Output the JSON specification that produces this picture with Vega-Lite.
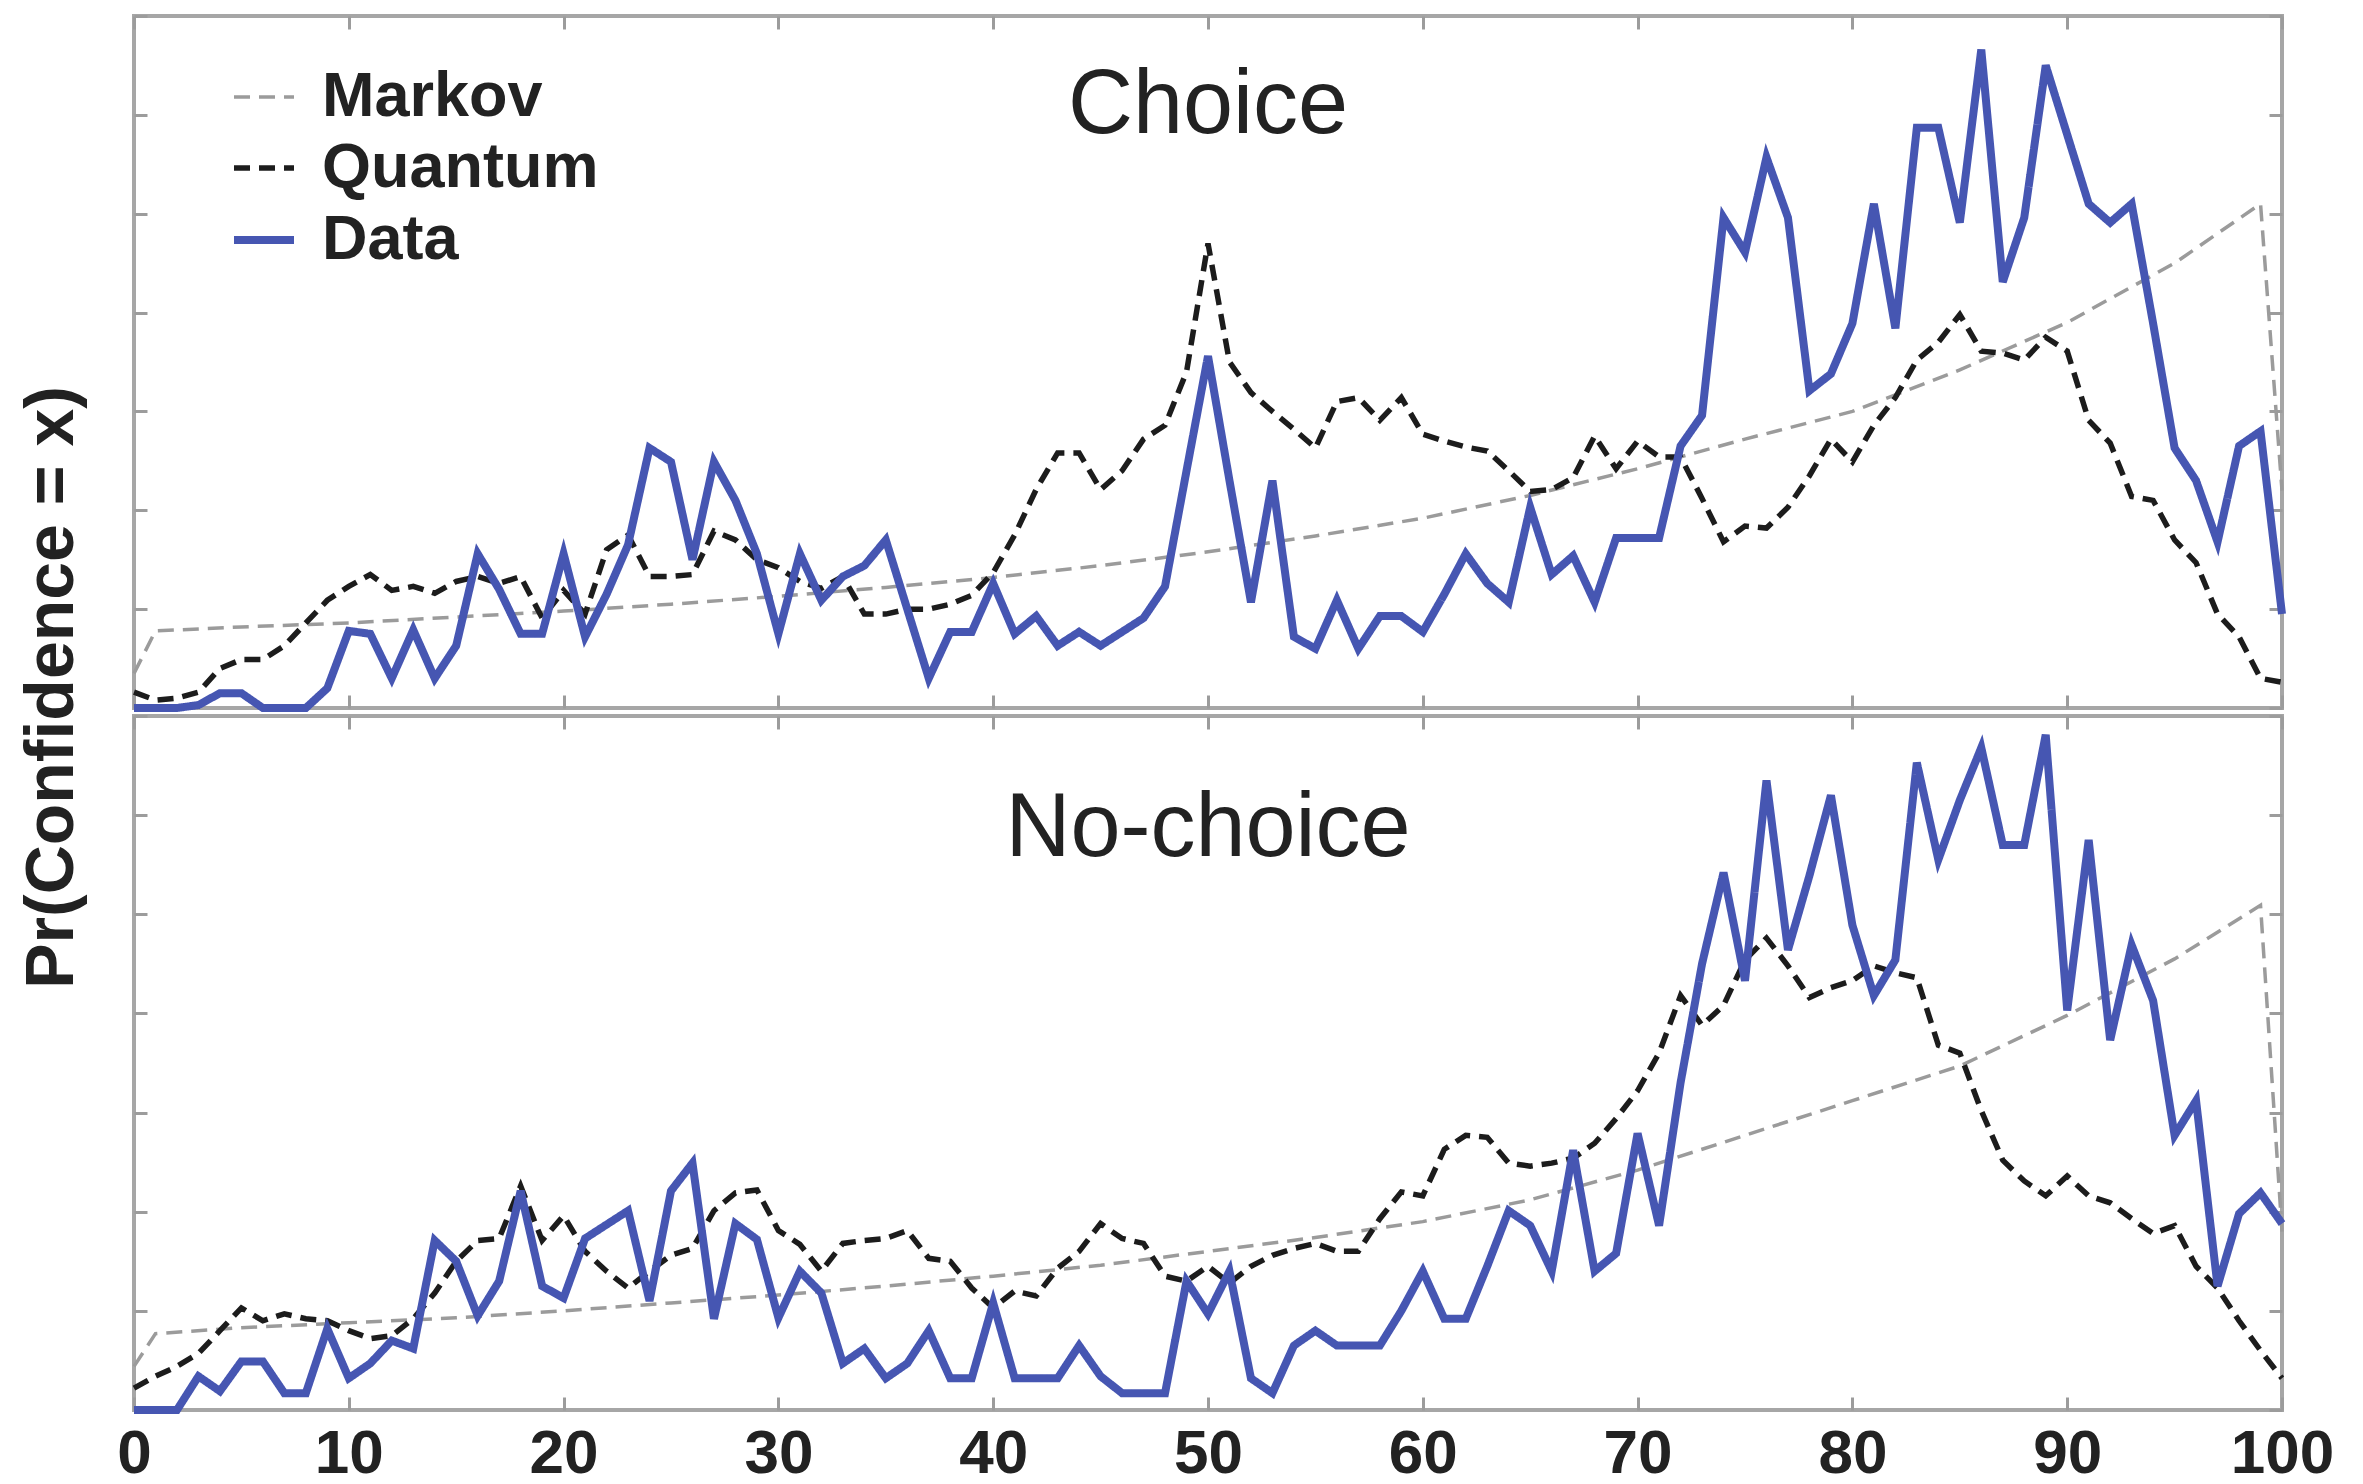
{
  "$schema": "https://vega.github.io/schema/vega-lite/v6.json",
  "background": "white",
  "padding": {"left": 16, "top": 12, "right": 20, "bottom": 10},
  "bounds": "flush",
  "config": {
    "font": "Liberation Sans",
    "view": {"stroke": "#a6a6a6", "strokeWidth": 4},
    "axis": {"grid": false, "domain": false, "tickColor": "#9c9c9c", "tickWidth": 3, "tickSize": -13, "labelFlush": false, "labelOverlap": false}
  },
  "spacing": 8,
  "resolve": {
    "scale": {"color": "independent", "strokeDash": "independent", "strokeWidth": "independent"},
    "legend": {"color": "independent", "strokeDash": "independent", "strokeWidth": "independent"}
  },
  "datasets": {
    "choice": [
      {"model":"Markov","conf":0,"pr":0.0035},{"model":"Markov","conf":1,"pr":0.0078},{"model":"Markov","conf":5,"pr":0.0082},{"model":"Markov","conf":10,"pr":0.0086},{"model":"Markov","conf":15,"pr":0.0092},{"model":"Markov","conf":20,"pr":0.0098},{"model":"Markov","conf":25,"pr":0.0105},{"model":"Markov","conf":30,"pr":0.0113},{"model":"Markov","conf":35,"pr":0.0122},{"model":"Markov","conf":40,"pr":0.0132},{"model":"Markov","conf":45,"pr":0.0144},{"model":"Markov","conf":50,"pr":0.0158},{"model":"Markov","conf":55,"pr":0.0174},{"model":"Markov","conf":60,"pr":0.0192},{"model":"Markov","conf":65,"pr":0.0215},{"model":"Markov","conf":70,"pr":0.0242},{"model":"Markov","conf":75,"pr":0.0272},{"model":"Markov","conf":80,"pr":0.03},{"model":"Markov","conf":85,"pr":0.0342},{"model":"Markov","conf":90,"pr":0.039},{"model":"Markov","conf":95,"pr":0.045},{"model":"Markov","conf":99,"pr":0.051},{"model":"Markov","conf":100,"pr":0.022},
      {"model":"Quantum","conf":0,"pr":0.0016},{"model":"Quantum","conf":1,"pr":0.0008},{"model":"Quantum","conf":2,"pr":0.001},{"model":"Quantum","conf":3,"pr":0.0016},{"model":"Quantum","conf":4,"pr":0.004},{"model":"Quantum","conf":5,"pr":0.0049},{"model":"Quantum","conf":6,"pr":0.0049},{"model":"Quantum","conf":7,"pr":0.0063},{"model":"Quantum","conf":8,"pr":0.0086},{"model":"Quantum","conf":9,"pr":0.0109},
      {"model":"Quantum","conf":10,"pr":0.0123},{"model":"Quantum","conf":11,"pr":0.0135},{"model":"Quantum","conf":12,"pr":0.0119},{"model":"Quantum","conf":13,"pr":0.0123},{"model":"Quantum","conf":14,"pr":0.0116},{"model":"Quantum","conf":15,"pr":0.0128},{"model":"Quantum","conf":16,"pr":0.0133},{"model":"Quantum","conf":17,"pr":0.0126},{"model":"Quantum","conf":18,"pr":0.0133},{"model":"Quantum","conf":19,"pr":0.0091},
      {"model":"Quantum","conf":20,"pr":0.0119},{"model":"Quantum","conf":21,"pr":0.0095},{"model":"Quantum","conf":22,"pr":0.016},{"model":"Quantum","conf":23,"pr":0.0175},{"model":"Quantum","conf":24,"pr":0.0133},{"model":"Quantum","conf":25,"pr":0.0133},{"model":"Quantum","conf":26,"pr":0.0135},{"model":"Quantum","conf":27,"pr":0.0179},{"model":"Quantum","conf":28,"pr":0.017},{"model":"Quantum","conf":29,"pr":0.015},
      {"model":"Quantum","conf":30,"pr":0.0142},{"model":"Quantum","conf":31,"pr":0.0128},{"model":"Quantum","conf":32,"pr":0.0121},{"model":"Quantum","conf":33,"pr":0.0133},{"model":"Quantum","conf":34,"pr":0.0095},{"model":"Quantum","conf":35,"pr":0.0095},{"model":"Quantum","conf":36,"pr":0.01},{"model":"Quantum","conf":37,"pr":0.01},{"model":"Quantum","conf":38,"pr":0.0105},{"model":"Quantum","conf":39,"pr":0.0114},
      {"model":"Quantum","conf":40,"pr":0.0137},{"model":"Quantum","conf":41,"pr":0.0175},{"model":"Quantum","conf":42,"pr":0.0221},{"model":"Quantum","conf":43,"pr":0.0258},{"model":"Quantum","conf":44,"pr":0.0258},{"model":"Quantum","conf":45,"pr":0.0221},{"model":"Quantum","conf":46,"pr":0.024},{"model":"Quantum","conf":47,"pr":0.0272},{"model":"Quantum","conf":48,"pr":0.0286},{"model":"Quantum","conf":49,"pr":0.034},
      {"model":"Quantum","conf":50,"pr":0.047},{"model":"Quantum","conf":51,"pr":0.035},{"model":"Quantum","conf":52,"pr":0.0319},{"model":"Quantum","conf":53,"pr":0.03},{"model":"Quantum","conf":54,"pr":0.0282},{"model":"Quantum","conf":55,"pr":0.0263},{"model":"Quantum","conf":56,"pr":0.031},{"model":"Quantum","conf":57,"pr":0.0314},{"model":"Quantum","conf":58,"pr":0.0291},{"model":"Quantum","conf":59,"pr":0.0314},
      {"model":"Quantum","conf":60,"pr":0.0277},{"model":"Quantum","conf":61,"pr":0.027},{"model":"Quantum","conf":62,"pr":0.0264},{"model":"Quantum","conf":63,"pr":0.026},{"model":"Quantum","conf":64,"pr":0.024},{"model":"Quantum","conf":65,"pr":0.0219},{"model":"Quantum","conf":66,"pr":0.0221},{"model":"Quantum","conf":67,"pr":0.0233},{"model":"Quantum","conf":68,"pr":0.0275},{"model":"Quantum","conf":69,"pr":0.0242},
      {"model":"Quantum","conf":70,"pr":0.027},{"model":"Quantum","conf":71,"pr":0.0254},{"model":"Quantum","conf":72,"pr":0.0254},{"model":"Quantum","conf":73,"pr":0.0212},{"model":"Quantum","conf":74,"pr":0.0168},{"model":"Quantum","conf":75,"pr":0.0184},{"model":"Quantum","conf":76,"pr":0.0182},{"model":"Quantum","conf":77,"pr":0.0203},{"model":"Quantum","conf":78,"pr":0.0235},{"model":"Quantum","conf":79,"pr":0.0272},
      {"model":"Quantum","conf":80,"pr":0.0249},{"model":"Quantum","conf":81,"pr":0.0286},{"model":"Quantum","conf":82,"pr":0.0314},{"model":"Quantum","conf":83,"pr":0.0352},{"model":"Quantum","conf":84,"pr":0.037},{"model":"Quantum","conf":85,"pr":0.0398},{"model":"Quantum","conf":86,"pr":0.0361},{"model":"Quantum","conf":87,"pr":0.0359},{"model":"Quantum","conf":88,"pr":0.0352},{"model":"Quantum","conf":89,"pr":0.0375},
      {"model":"Quantum","conf":90,"pr":0.0361},{"model":"Quantum","conf":91,"pr":0.0291},{"model":"Quantum","conf":92,"pr":0.0268},{"model":"Quantum","conf":93,"pr":0.0214},{"model":"Quantum","conf":94,"pr":0.021},{"model":"Quantum","conf":95,"pr":0.017},{"model":"Quantum","conf":96,"pr":0.0147},{"model":"Quantum","conf":97,"pr":0.0095},{"model":"Quantum","conf":98,"pr":0.0072},{"model":"Quantum","conf":99,"pr":0.003},{"model":"Quantum","conf":100,"pr":0.0026},
      {"model":"Data","conf":0,"pr":0},{"model":"Data","conf":1,"pr":0},{"model":"Data","conf":2,"pr":0},{"model":"Data","conf":3,"pr":0.0003},{"model":"Data","conf":4,"pr":0.0015},{"model":"Data","conf":5,"pr":0.0015},{"model":"Data","conf":6,"pr":0},{"model":"Data","conf":7,"pr":0},{"model":"Data","conf":8,"pr":0},{"model":"Data","conf":9,"pr":0.002},
      {"model":"Data","conf":10,"pr":0.0078},{"model":"Data","conf":11,"pr":0.0075},{"model":"Data","conf":12,"pr":0.003},{"model":"Data","conf":13,"pr":0.0079},{"model":"Data","conf":14,"pr":0.003},{"model":"Data","conf":15,"pr":0.0063},{"model":"Data","conf":16,"pr":0.0156},{"model":"Data","conf":17,"pr":0.012},{"model":"Data","conf":18,"pr":0.0075},{"model":"Data","conf":19,"pr":0.0075},
      {"model":"Data","conf":20,"pr":0.0156},{"model":"Data","conf":21,"pr":0.0072},{"model":"Data","conf":22,"pr":0.0115},{"model":"Data","conf":23,"pr":0.0165},{"model":"Data","conf":24,"pr":0.0263},{"model":"Data","conf":25,"pr":0.0249},{"model":"Data","conf":26,"pr":0.015},{"model":"Data","conf":27,"pr":0.0249},{"model":"Data","conf":28,"pr":0.021},{"model":"Data","conf":29,"pr":0.0156},
      {"model":"Data","conf":30,"pr":0.0075},{"model":"Data","conf":31,"pr":0.0156},{"model":"Data","conf":32,"pr":0.0109},{"model":"Data","conf":33,"pr":0.0133},{"model":"Data","conf":34,"pr":0.0144},{"model":"Data","conf":35,"pr":0.017},{"model":"Data","conf":36,"pr":0.01},{"model":"Data","conf":37,"pr":0.003},{"model":"Data","conf":38,"pr":0.0077},{"model":"Data","conf":39,"pr":0.0077},
      {"model":"Data","conf":40,"pr":0.0126},{"model":"Data","conf":41,"pr":0.0075},{"model":"Data","conf":42,"pr":0.0093},{"model":"Data","conf":43,"pr":0.0063},{"model":"Data","conf":44,"pr":0.0077},{"model":"Data","conf":45,"pr":0.0063},{"model":"Data","conf":46,"pr":0.0077},{"model":"Data","conf":47,"pr":0.0091},{"model":"Data","conf":48,"pr":0.0123},{"model":"Data","conf":49,"pr":0.024},
      {"model":"Data","conf":50,"pr":0.0356},{"model":"Data","conf":51,"pr":0.023},{"model":"Data","conf":52,"pr":0.0107},{"model":"Data","conf":53,"pr":0.023},{"model":"Data","conf":54,"pr":0.0072},{"model":"Data","conf":55,"pr":0.006},{"model":"Data","conf":56,"pr":0.0109},{"model":"Data","conf":57,"pr":0.006},{"model":"Data","conf":58,"pr":0.0093},{"model":"Data","conf":59,"pr":0.0093},
      {"model":"Data","conf":60,"pr":0.0077},{"model":"Data","conf":61,"pr":0.0115},{"model":"Data","conf":62,"pr":0.0156},{"model":"Data","conf":63,"pr":0.0126},{"model":"Data","conf":64,"pr":0.0107},{"model":"Data","conf":65,"pr":0.0203},{"model":"Data","conf":66,"pr":0.0135},{"model":"Data","conf":67,"pr":0.0154},{"model":"Data","conf":68,"pr":0.0107},{"model":"Data","conf":69,"pr":0.0172},
      {"model":"Data","conf":70,"pr":0.0172},{"model":"Data","conf":71,"pr":0.0172},{"model":"Data","conf":72,"pr":0.0265},{"model":"Data","conf":73,"pr":0.0296},{"model":"Data","conf":74,"pr":0.0496},{"model":"Data","conf":75,"pr":0.0461},{"model":"Data","conf":76,"pr":0.0557},{"model":"Data","conf":77,"pr":0.0496},{"model":"Data","conf":78,"pr":0.0321},{"model":"Data","conf":79,"pr":0.0338},
      {"model":"Data","conf":80,"pr":0.0389},{"model":"Data","conf":81,"pr":0.051},{"model":"Data","conf":82,"pr":0.0384},{"model":"Data","conf":83,"pr":0.0587},{"model":"Data","conf":84,"pr":0.0587},{"model":"Data","conf":85,"pr":0.0491},{"model":"Data","conf":86,"pr":0.0666},{"model":"Data","conf":87,"pr":0.0431},{"model":"Data","conf":88,"pr":0.0496},{"model":"Data","conf":89,"pr":0.065},
      {"model":"Data","conf":90,"pr":0.058},{"model":"Data","conf":91,"pr":0.051},{"model":"Data","conf":92,"pr":0.0491},{"model":"Data","conf":93,"pr":0.051},{"model":"Data","conf":94,"pr":0.0389},{"model":"Data","conf":95,"pr":0.0263},{"model":"Data","conf":96,"pr":0.023},{"model":"Data","conf":97,"pr":0.0168},{"model":"Data","conf":98,"pr":0.0265},{"model":"Data","conf":99,"pr":0.028},{"model":"Data","conf":100,"pr":0.0095}
    ],
    "nochoice": [
      {"model":"Markov","conf":0,"pr":0.0044},{"model":"Markov","conf":1,"pr":0.0077},{"model":"Markov","conf":5,"pr":0.0083},{"model":"Markov","conf":10,"pr":0.0088},{"model":"Markov","conf":15,"pr":0.0093},{"model":"Markov","conf":20,"pr":0.01},{"model":"Markov","conf":25,"pr":0.0108},{"model":"Markov","conf":30,"pr":0.0116},{"model":"Markov","conf":35,"pr":0.0125},{"model":"Markov","conf":40,"pr":0.0135},{"model":"Markov","conf":45,"pr":0.0146},{"model":"Markov","conf":50,"pr":0.016},{"model":"Markov","conf":55,"pr":0.0174},{"model":"Markov","conf":60,"pr":0.019},{"model":"Markov","conf":65,"pr":0.0212},{"model":"Markov","conf":70,"pr":0.0242},{"model":"Markov","conf":75,"pr":0.0277},{"model":"Markov","conf":80,"pr":0.0312},{"model":"Markov","conf":85,"pr":0.0347},{"model":"Markov","conf":90,"pr":0.0398},{"model":"Markov","conf":95,"pr":0.0455},{"model":"Markov","conf":99,"pr":0.0509},{"model":"Markov","conf":100,"pr":0.018},
      {"model":"Quantum","conf":0,"pr":0.0022},{"model":"Quantum","conf":1,"pr":0.0034},{"model":"Quantum","conf":2,"pr":0.0044},{"model":"Quantum","conf":3,"pr":0.0057},{"model":"Quantum","conf":4,"pr":0.008},{"model":"Quantum","conf":5,"pr":0.0103},{"model":"Quantum","conf":6,"pr":0.009},{"model":"Quantum","conf":7,"pr":0.0097},{"model":"Quantum","conf":8,"pr":0.0092},{"model":"Quantum","conf":9,"pr":0.009},
      {"model":"Quantum","conf":10,"pr":0.008},{"model":"Quantum","conf":11,"pr":0.0072},{"model":"Quantum","conf":12,"pr":0.0075},{"model":"Quantum","conf":13,"pr":0.0092},{"model":"Quantum","conf":14,"pr":0.0118},{"model":"Quantum","conf":15,"pr":0.015},{"model":"Quantum","conf":16,"pr":0.0171},{"model":"Quantum","conf":17,"pr":0.0173},{"model":"Quantum","conf":18,"pr":0.0226},{"model":"Quantum","conf":19,"pr":0.0171},
      {"model":"Quantum","conf":20,"pr":0.0196},{"model":"Quantum","conf":21,"pr":0.016},{"model":"Quantum","conf":22,"pr":0.014},{"model":"Quantum","conf":23,"pr":0.0123},{"model":"Quantum","conf":24,"pr":0.014},{"model":"Quantum","conf":25,"pr":0.0156},{"model":"Quantum","conf":26,"pr":0.0163},{"model":"Quantum","conf":27,"pr":0.0201},{"model":"Quantum","conf":28,"pr":0.0219},{"model":"Quantum","conf":29,"pr":0.0222},
      {"model":"Quantum","conf":30,"pr":0.0181},{"model":"Quantum","conf":31,"pr":0.0167},{"model":"Quantum","conf":32,"pr":0.014},{"model":"Quantum","conf":33,"pr":0.0168},{"model":"Quantum","conf":34,"pr":0.0171},{"model":"Quantum","conf":35,"pr":0.0173},{"model":"Quantum","conf":36,"pr":0.0181},{"model":"Quantum","conf":37,"pr":0.0153},{"model":"Quantum","conf":38,"pr":0.015},{"model":"Quantum","conf":39,"pr":0.0123},
      {"model":"Quantum","conf":40,"pr":0.0103},{"model":"Quantum","conf":41,"pr":0.012},{"model":"Quantum","conf":42,"pr":0.0115},{"model":"Quantum","conf":43,"pr":0.0143},{"model":"Quantum","conf":44,"pr":0.016},{"model":"Quantum","conf":45,"pr":0.0188},{"model":"Quantum","conf":46,"pr":0.0173},{"model":"Quantum","conf":47,"pr":0.0168},{"model":"Quantum","conf":48,"pr":0.0135},{"model":"Quantum","conf":49,"pr":0.013},
      {"model":"Quantum","conf":50,"pr":0.0145},{"model":"Quantum","conf":51,"pr":0.0128},{"model":"Quantum","conf":52,"pr":0.0145},{"model":"Quantum","conf":53,"pr":0.0156},{"model":"Quantum","conf":54,"pr":0.0163},{"model":"Quantum","conf":55,"pr":0.0168},{"model":"Quantum","conf":56,"pr":0.016},{"model":"Quantum","conf":57,"pr":0.016},{"model":"Quantum","conf":58,"pr":0.0193},{"model":"Quantum","conf":59,"pr":0.022},
      {"model":"Quantum","conf":60,"pr":0.0216},{"model":"Quantum","conf":61,"pr":0.0263},{"model":"Quantum","conf":62,"pr":0.0277},{"model":"Quantum","conf":63,"pr":0.0275},{"model":"Quantum","conf":64,"pr":0.0249},{"model":"Quantum","conf":65,"pr":0.0246},{"model":"Quantum","conf":66,"pr":0.0249},{"model":"Quantum","conf":67,"pr":0.0254},{"model":"Quantum","conf":68,"pr":0.0269},{"model":"Quantum","conf":69,"pr":0.0294},
      {"model":"Quantum","conf":70,"pr":0.0322},{"model":"Quantum","conf":71,"pr":0.036},{"model":"Quantum","conf":72,"pr":0.0418},{"model":"Quantum","conf":73,"pr":0.0388},{"model":"Quantum","conf":74,"pr":0.0408},{"model":"Quantum","conf":75,"pr":0.0454},{"model":"Quantum","conf":76,"pr":0.0476},{"model":"Quantum","conf":77,"pr":0.0448},{"model":"Quantum","conf":78,"pr":0.0416},{"model":"Quantum","conf":79,"pr":0.0426},
      {"model":"Quantum","conf":80,"pr":0.0433},{"model":"Quantum","conf":81,"pr":0.0448},{"model":"Quantum","conf":82,"pr":0.0441},{"model":"Quantum","conf":83,"pr":0.0436},{"model":"Quantum","conf":84,"pr":0.0368},{"model":"Quantum","conf":85,"pr":0.036},{"model":"Quantum","conf":86,"pr":0.0302},{"model":"Quantum","conf":87,"pr":0.0252},{"model":"Quantum","conf":88,"pr":0.0231},{"model":"Quantum","conf":89,"pr":0.0216},
      {"model":"Quantum","conf":90,"pr":0.0236},{"model":"Quantum","conf":91,"pr":0.0216},{"model":"Quantum","conf":92,"pr":0.0209},{"model":"Quantum","conf":93,"pr":0.0193},{"model":"Quantum","conf":94,"pr":0.0178},{"model":"Quantum","conf":95,"pr":0.0186},{"model":"Quantum","conf":96,"pr":0.0145},{"model":"Quantum","conf":97,"pr":0.0123},{"model":"Quantum","conf":98,"pr":0.009},{"model":"Quantum","conf":99,"pr":0.006},{"model":"Quantum","conf":100,"pr":0.0032},
      {"model":"Data","conf":0,"pr":0},{"model":"Data","conf":1,"pr":0},{"model":"Data","conf":2,"pr":0},{"model":"Data","conf":3,"pr":0.0034},{"model":"Data","conf":4,"pr":0.0019},{"model":"Data","conf":5,"pr":0.0049},{"model":"Data","conf":6,"pr":0.0049},{"model":"Data","conf":7,"pr":0.0017},{"model":"Data","conf":8,"pr":0.0017},{"model":"Data","conf":9,"pr":0.0082},
      {"model":"Data","conf":10,"pr":0.0032},{"model":"Data","conf":11,"pr":0.0047},{"model":"Data","conf":12,"pr":0.007},{"model":"Data","conf":13,"pr":0.0062},{"model":"Data","conf":14,"pr":0.0171},{"model":"Data","conf":15,"pr":0.015},{"model":"Data","conf":16,"pr":0.0095},{"model":"Data","conf":17,"pr":0.013},{"model":"Data","conf":18,"pr":0.0221},{"model":"Data","conf":19,"pr":0.0125},
      {"model":"Data","conf":20,"pr":0.0113},{"model":"Data","conf":21,"pr":0.0173},{"model":"Data","conf":22,"pr":0.0187},{"model":"Data","conf":23,"pr":0.0201},{"model":"Data","conf":24,"pr":0.011},{"model":"Data","conf":25,"pr":0.0221},{"model":"Data","conf":26,"pr":0.0249},{"model":"Data","conf":27,"pr":0.0092},{"model":"Data","conf":28,"pr":0.0188},{"model":"Data","conf":29,"pr":0.0172},
      {"model":"Data","conf":30,"pr":0.0093},{"model":"Data","conf":31,"pr":0.014},{"model":"Data","conf":32,"pr":0.0118},{"model":"Data","conf":33,"pr":0.0047},{"model":"Data","conf":34,"pr":0.0062},{"model":"Data","conf":35,"pr":0.0032},{"model":"Data","conf":36,"pr":0.0047},{"model":"Data","conf":37,"pr":0.008},{"model":"Data","conf":38,"pr":0.0032},{"model":"Data","conf":39,"pr":0.0032},
      {"model":"Data","conf":40,"pr":0.0108},{"model":"Data","conf":41,"pr":0.0032},{"model":"Data","conf":42,"pr":0.0032},{"model":"Data","conf":43,"pr":0.0032},{"model":"Data","conf":44,"pr":0.0065},{"model":"Data","conf":45,"pr":0.0034},{"model":"Data","conf":46,"pr":0.0017},{"model":"Data","conf":47,"pr":0.0017},{"model":"Data","conf":48,"pr":0.0017},{"model":"Data","conf":49,"pr":0.013},
      {"model":"Data","conf":50,"pr":0.0097},{"model":"Data","conf":51,"pr":0.014},{"model":"Data","conf":52,"pr":0.0032},{"model":"Data","conf":53,"pr":0.0017},{"model":"Data","conf":54,"pr":0.0065},{"model":"Data","conf":55,"pr":0.008},{"model":"Data","conf":56,"pr":0.0065},{"model":"Data","conf":57,"pr":0.0065},{"model":"Data","conf":58,"pr":0.0065},{"model":"Data","conf":59,"pr":0.01},
      {"model":"Data","conf":60,"pr":0.014},{"model":"Data","conf":61,"pr":0.0092},{"model":"Data","conf":62,"pr":0.0092},{"model":"Data","conf":63,"pr":0.0145},{"model":"Data","conf":64,"pr":0.0201},{"model":"Data","conf":65,"pr":0.0186},{"model":"Data","conf":66,"pr":0.014},{"model":"Data","conf":67,"pr":0.0262},{"model":"Data","conf":68,"pr":0.014},{"model":"Data","conf":69,"pr":0.0158},
      {"model":"Data","conf":70,"pr":0.0279},{"model":"Data","conf":71,"pr":0.0186},{"model":"Data","conf":72,"pr":0.033},{"model":"Data","conf":73,"pr":0.045},{"model":"Data","conf":74,"pr":0.0542},{"model":"Data","conf":75,"pr":0.0433},{"model":"Data","conf":76,"pr":0.0635},{"model":"Data","conf":77,"pr":0.0464},{"model":"Data","conf":78,"pr":0.0539},{"model":"Data","conf":79,"pr":0.062},
      {"model":"Data","conf":80,"pr":0.0489},{"model":"Data","conf":81,"pr":0.0418},{"model":"Data","conf":82,"pr":0.0454},{"model":"Data","conf":83,"pr":0.0653},{"model":"Data","conf":84,"pr":0.0555},{"model":"Data","conf":85,"pr":0.0615},{"model":"Data","conf":86,"pr":0.0668},{"model":"Data","conf":87,"pr":0.057},{"model":"Data","conf":88,"pr":0.057},{"model":"Data","conf":89,"pr":0.0681},
      {"model":"Data","conf":90,"pr":0.0403},{"model":"Data","conf":91,"pr":0.0575},{"model":"Data","conf":92,"pr":0.0373},{"model":"Data","conf":93,"pr":0.0469},{"model":"Data","conf":94,"pr":0.0413},{"model":"Data","conf":95,"pr":0.0277},{"model":"Data","conf":96,"pr":0.0312},{"model":"Data","conf":97,"pr":0.0125},{"model":"Data","conf":98,"pr":0.0198},{"model":"Data","conf":99,"pr":0.0219},{"model":"Data","conf":100,"pr":0.0188}
    ]
  },
  "vconcat": [
    {
      "width": 2148,
      "height": 692,
      "layer": [
        {
          "data": {"name": "choice"},
          "mark": {"type": "line"},
          "encoding": {
            "x": {"field": "conf", "type": "quantitative", "scale": {"domain": [0, 100], "nice": false},
                  "axis": {"orient": "bottom", "values": [0,10,20,30,40,50,60,70,80,90,100], "labels": false, "title": null}},
            "y": {"field": "pr", "type": "quantitative", "scale": {"domain": [0, 0.07], "nice": false, "zero": true},
                  "axis": {"orient": "left", "values": [0,0.01,0.02,0.03,0.04,0.05,0.06,0.07], "labels": false,
                           "title": "Pr(Confidence = x)", "titleX": -62, "titleY": 671, "titleAngle": -90, "titleAlign": "center",
                           "titleBaseline": "alphabetic", "titleFontSize": 68, "titleFontWeight": "bold", "titleColor": "#222222", "titlePadding": 0}},
            "color": {"field": "model", "type": "nominal",
                      "scale": {"domain": ["Markov", "Quantum", "Data"], "range": ["#9b9b9b", "#1c1c1c", "#4656b2"]},
                      "legend": {"orient": "none", "legendX": 96, "legendY": 49, "title": null, "symbolType": "stroke", "symbolSize": 3600,
                                 "labelFontSize": 63, "labelFontWeight": "bold", "labelColor": "#222222", "labelOffset": 24,
                                 "rowPadding": 6, "padding": 0, "labelLimit": 0}},
            "strokeDash": {"field": "model", "type": "nominal",
                           "scale": {"type": "ordinal", "domain": ["Markov", "Quantum", "Data"], "range": [[16, 9], [16, 9], [1, 0]]}},
            "strokeWidth": {"field": "model", "type": "nominal",
                            "scale": {"type": "ordinal", "domain": ["Markov", "Quantum", "Data"], "range": [3.5, 5.5, 8]}}
          }
        },
        {
          "data": {"values": [{"panel": "Choice"}]},
          "mark": {"type": "text", "fontSize": 90, "color": "#222222", "align": "center", "baseline": "middle"},
          "encoding": {
            "x": {"datum": 50, "type": "quantitative",
                  "axis": {"orient": "top", "values": [0,10,20,30,40,50,60,70,80,90,100], "labels": false, "title": null}},
            "y": {"datum": 0.0609, "type": "quantitative",
                  "axis": {"orient": "right", "values": [0,0.01,0.02,0.03,0.04,0.05,0.06,0.07], "labels": false, "title": null}},
            "text": {"field": "panel"}
          }
        }
      ],
      "resolve": {"axis": {"x": "independent", "y": "independent"}}
    },
    {
      "width": 2148,
      "height": 694,
      "layer": [
        {
          "data": {"name": "nochoice"},
          "mark": {"type": "line"},
          "encoding": {
            "x": {"field": "conf", "type": "quantitative", "scale": {"domain": [0, 100], "nice": false},
                  "axis": {"orient": "bottom", "values": [0,10,20,30,40,50,60,70,80,90,100], "title": null,
                           "labelFontSize": 62, "labelFontWeight": "bold", "labelColor": "#222222", "labelPadding": 26}},
            "y": {"field": "pr", "type": "quantitative", "scale": {"domain": [0, 0.07], "nice": false, "zero": true},
                  "axis": {"orient": "left", "values": [0,0.01,0.02,0.03,0.04,0.05,0.06,0.07], "labels": false, "title": null}},
            "color": {"field": "model", "type": "nominal",
                      "scale": {"domain": ["Markov", "Quantum", "Data"], "range": ["#9b9b9b", "#1c1c1c", "#4656b2"]}, "legend": null},
            "strokeDash": {"field": "model", "type": "nominal",
                           "scale": {"type": "ordinal", "domain": ["Markov", "Quantum", "Data"], "range": [[16, 9], [16, 9], [1, 0]]}, "legend": null},
            "strokeWidth": {"field": "model", "type": "nominal",
                            "scale": {"type": "ordinal", "domain": ["Markov", "Quantum", "Data"], "range": [3.5, 5.5, 8]}, "legend": null}
          }
        },
        {
          "data": {"values": [{"panel": "No-choice"}]},
          "mark": {"type": "text", "fontSize": 90, "color": "#222222", "align": "center", "baseline": "middle"},
          "encoding": {
            "x": {"datum": 50, "type": "quantitative",
                  "axis": {"orient": "top", "values": [0,10,20,30,40,50,60,70,80,90,100], "labels": false, "title": null}},
            "y": {"datum": 0.0586, "type": "quantitative",
                  "axis": {"orient": "right", "values": [0,0.01,0.02,0.03,0.04,0.05,0.06,0.07], "labels": false, "title": null}},
            "text": {"field": "panel"}
          }
        }
      ],
      "resolve": {"axis": {"x": "independent", "y": "independent"}}
    }
  ]
}
